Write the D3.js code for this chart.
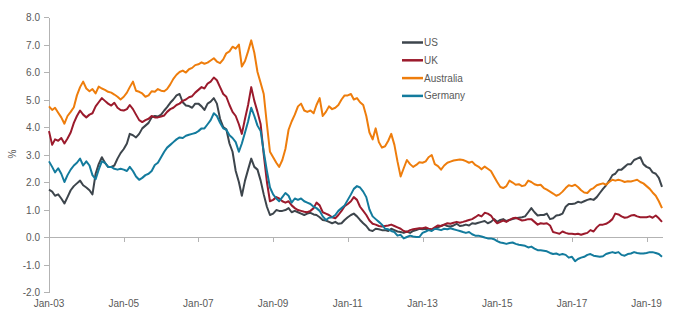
<!DOCTYPE html>
<html lang="en">
<head>
<meta charset="utf-8"/>
<title>Two-year government bond yields</title>
<script src="https://d3js.org/d3.v7.min.js"></script>
<style>
body { margin: 0; background: #fff; }
text { font-family: "Liberation Sans", Arial, sans-serif; font-size: 10px; fill: #595959; }
.axis path, .axis line { stroke: #b3b3b3; stroke-width: 1; shape-rendering: crispEdges; }
.series { fill: none; stroke-width: 2; stroke-linejoin: round; }
</style>
</head>
<body>
<div id="chart"></div>
<script>
// monthly yields (%), Jan 2003 .. Jun 2019
var seriesNames = ["US", "UK", "Australia", "Germany"];
var seriesColours = ["#3d454c", "#9b1a2c", "#ee7d0c", "#137b9d"];
var yTicks = [-2, -1, 0, 1, 2, 3, 4, 5, 6, 7, 8];
var xTickYears = [2003, 2005, 2007, 2009, 2011, 2013, 2015, 2017, 2019];

var us = [
  1.72, 1.65, 1.50, 1.55, 1.40, 1.22, 1.45, 1.70, 1.85, 1.95, 2.05, 1.88,
  1.80, 1.70, 1.55, 2.30, 2.65, 2.90, 2.70, 2.55, 2.55, 2.60, 2.85, 3.05,
  3.20, 3.40, 3.75, 3.70, 3.62, 3.75, 3.95, 4.05, 4.15, 4.35, 4.40, 4.38,
  4.45, 4.60, 4.72, 4.88, 5.00, 5.15, 5.20, 4.90, 4.78, 4.76, 4.70, 4.85,
  4.85, 4.75, 4.62, 4.85, 4.92, 5.05, 4.85, 4.30, 4.00, 3.92, 3.40, 3.10,
  2.40, 2.00, 1.50, 2.05, 2.45, 2.85, 2.55, 2.45, 2.05, 1.55, 1.10, 0.80,
  0.85, 0.98, 0.95, 0.95, 0.98, 1.05, 0.90, 0.95, 0.90, 0.85, 0.80, 0.85,
  0.88, 0.82, 0.80, 0.72, 0.62, 0.60, 0.55, 0.50, 0.55, 0.48, 0.50, 0.62,
  0.72, 0.80, 0.85, 0.75, 0.62, 0.50, 0.40, 0.25, 0.22, 0.30, 0.28, 0.25,
  0.25, 0.22, 0.30, 0.25, 0.20, 0.18, 0.15, 0.20, 0.15, 0.22, 0.25, 0.30,
  0.28, 0.30, 0.28, 0.25, 0.30, 0.35, 0.40, 0.45, 0.40, 0.38, 0.42, 0.48,
  0.40, 0.42, 0.45, 0.42, 0.50, 0.48, 0.52, 0.55, 0.58, 0.50, 0.55, 0.65,
  0.55, 0.62, 0.65, 0.58, 0.62, 0.65, 0.68, 0.70, 0.72, 0.75, 0.90, 1.05,
  0.90, 0.78, 0.80, 0.80, 0.85, 0.65, 0.68, 0.78, 0.80, 0.85, 1.10, 1.20,
  1.20, 1.22, 1.28, 1.25, 1.30, 1.35, 1.38, 1.35, 1.45, 1.60, 1.75, 1.88,
  2.05, 2.25, 2.30, 2.45, 2.45, 2.55, 2.65, 2.65, 2.80, 2.85, 2.90, 2.65,
  2.55, 2.50, 2.35, 2.30, 2.15, 1.82
];

var uk = [
  3.85, 3.35, 3.55, 3.50, 3.60, 3.40, 3.58, 3.80, 4.15, 4.40, 4.60, 4.45,
  4.35, 4.45, 4.50, 4.75, 4.90, 5.05, 4.95, 4.85, 4.78, 4.88, 4.70, 4.62,
  4.60, 4.65, 4.80, 4.65, 4.45, 4.25, 4.18, 4.25, 4.30, 4.40, 4.35, 4.35,
  4.38, 4.42, 4.55, 4.65, 4.70, 4.80, 4.85, 4.95, 5.00, 5.08, 5.12, 5.25,
  5.35, 5.45, 5.40, 5.58, 5.65, 5.80, 5.70, 5.45, 5.20, 5.10, 4.80, 4.55,
  4.40, 4.10, 3.75, 4.30, 4.80, 5.45, 4.95, 4.55, 4.10, 3.00, 2.00, 1.30,
  1.35, 1.45, 1.40, 1.30, 1.25, 1.30, 1.15, 1.05, 0.98, 0.95, 0.92, 0.90,
  0.95, 1.05, 1.25, 1.15, 0.90, 0.85, 0.80, 0.72, 0.68, 0.80, 0.95, 1.12,
  1.20, 1.30, 1.45, 1.35, 1.10, 0.95, 0.80, 0.60, 0.48, 0.45, 0.40, 0.38,
  0.40, 0.42, 0.45, 0.40, 0.35, 0.30, 0.22, 0.18, 0.25, 0.28, 0.30, 0.32,
  0.32, 0.35, 0.30, 0.28, 0.35, 0.42, 0.40, 0.45, 0.50, 0.48, 0.52, 0.55,
  0.52, 0.55, 0.58, 0.62, 0.65, 0.72, 0.80, 0.75, 0.88, 0.85, 0.78, 0.62,
  0.50, 0.55, 0.60, 0.55, 0.62, 0.68, 0.70, 0.65, 0.60, 0.62, 0.65, 0.65,
  0.55, 0.45, 0.50, 0.48, 0.50, 0.42, 0.18, 0.15, 0.12, 0.20, 0.15, 0.12,
  0.12, 0.10, 0.12, 0.08, 0.12, 0.15, 0.25, 0.20, 0.35, 0.45, 0.45, 0.48,
  0.55, 0.65, 0.85, 0.82, 0.75, 0.70, 0.72, 0.78, 0.80, 0.75, 0.72, 0.72,
  0.72, 0.75, 0.70, 0.78, 0.68, 0.55
];

var australia = [
  4.75, 4.62, 4.70, 4.52, 4.35, 4.12, 4.40, 4.55, 4.72, 5.15, 5.45, 5.65,
  5.40, 5.30, 5.38, 5.22, 5.47, 5.40, 5.35, 5.28, 5.25, 5.18, 5.10, 5.00,
  5.10, 5.25, 5.45, 5.65, 5.32, 5.28, 5.22, 5.10, 5.15, 5.30, 5.28, 5.38,
  5.32, 5.30, 5.38, 5.55, 5.75, 5.90, 6.00, 6.05, 5.98, 6.10, 6.15, 6.25,
  6.28, 6.35, 6.30, 6.34, 6.42, 6.50, 6.38, 6.32, 6.46, 6.68, 6.75, 6.92,
  6.85, 7.00, 6.20, 6.40, 6.75, 7.15, 6.70, 6.00, 5.60, 5.20, 4.10, 3.10,
  2.90, 2.70, 2.55, 2.80, 3.20, 3.90, 4.20, 4.45, 4.75, 4.85, 4.60, 4.55,
  4.60, 4.50, 4.80, 5.05, 4.40, 4.55, 4.75, 4.65, 4.70, 4.80, 5.00, 5.15,
  5.15, 5.20, 5.00, 5.05, 4.90, 4.80, 4.40, 3.80, 3.55, 3.95, 3.45, 3.25,
  3.30, 3.50, 3.75, 3.35, 2.75, 2.20, 2.50, 2.80, 2.65, 2.55, 2.62, 2.72,
  2.70, 2.75, 2.90, 2.98, 2.65, 2.58, 2.45, 2.60, 2.70, 2.74, 2.78, 2.80,
  2.82, 2.80, 2.76, 2.70, 2.74, 2.62, 2.56, 2.46, 2.56, 2.48, 2.40, 2.20,
  2.00, 1.82, 1.78, 1.85, 2.05, 1.98, 1.90, 1.92, 1.85, 1.88, 2.05, 2.00,
  1.92, 1.88, 1.90, 1.78, 1.72, 1.65, 1.58, 1.50, 1.55, 1.65, 1.78, 1.88,
  1.85, 1.90, 1.82, 1.70, 1.62, 1.60, 1.72, 1.78, 1.88, 1.92, 1.95, 1.90,
  2.00, 2.08, 2.05, 2.08, 2.05, 2.00, 2.03, 2.02, 2.05, 2.08, 2.00, 1.95,
  1.85, 1.75, 1.62, 1.50, 1.30, 1.05
];

var germany = [
  2.75, 2.55, 2.35, 2.50, 2.30, 2.00, 2.25, 2.45, 2.60, 2.70, 2.85, 2.60,
  2.75, 2.60, 2.25, 2.10, 2.45, 2.75, 2.70, 2.55, 2.55, 2.48, 2.45, 2.48,
  2.45, 2.40, 2.55, 2.40, 2.20, 2.08, 2.15, 2.25, 2.30, 2.40, 2.62, 2.70,
  2.90, 3.10, 3.25, 3.35, 3.45, 3.55, 3.62, 3.60, 3.68, 3.72, 3.75, 3.78,
  3.85, 3.95, 3.95, 4.10, 4.25, 4.50, 4.40, 4.15, 3.95, 3.90, 3.70, 3.60,
  3.45, 3.10, 3.40, 3.80, 4.20, 4.70, 4.40, 4.05, 3.85, 3.10, 2.40, 1.80,
  1.55, 1.40, 1.30, 1.45, 1.60, 1.50, 1.25, 1.40, 1.35, 1.40, 1.30, 1.25,
  1.20, 1.10, 1.05, 0.95, 0.75, 0.62, 0.70, 0.72, 0.80, 0.95, 1.05, 1.15,
  1.35, 1.55, 1.75, 1.85, 1.80, 1.65, 1.45, 1.00, 0.75, 0.65, 0.55, 0.45,
  0.30, 0.28, 0.22, 0.18, 0.05, 0.08, -0.05, 0.00, 0.05, 0.02, 0.00, 0.00,
  0.15, 0.20, 0.25, 0.22, 0.30, 0.28, 0.25, 0.30, 0.28, 0.32, 0.28, 0.25,
  0.22, 0.18, 0.15, 0.18, 0.10, 0.05, 0.05, 0.02, -0.02, -0.05, -0.05, -0.08,
  -0.15, -0.20, -0.22, -0.25, -0.22, -0.20, -0.25, -0.28, -0.30, -0.32, -0.38, -0.35,
  -0.42, -0.48, -0.48, -0.50, -0.52, -0.58, -0.62, -0.60, -0.65, -0.62, -0.65, -0.75,
  -0.72, -0.88, -0.80, -0.75, -0.72, -0.65, -0.62, -0.68, -0.70, -0.72, -0.70, -0.62,
  -0.58, -0.55, -0.58, -0.55, -0.65, -0.68, -0.62, -0.60, -0.55, -0.58, -0.60, -0.60,
  -0.58, -0.55, -0.55, -0.58, -0.62, -0.72
];

var w = 680;
var h = 322;

var months = d3.timeMonth.range(new Date(2003, 0, 1), new Date(2019, 6, 1));
var allSeries = [us, uk, australia, germany];

var svg = d3.select("#chart")
            .append("svg")
            .attr("width", w)
            .attr("height", h);

var xScale = d3.scaleTime()
               .domain([months[0], months[months.length - 1]])
               .range([49, 662]);

var yScale = d3.scaleLinear()
               .domain([-2, 8])
               .range([292, 17]);

// vertical axis
var yAxis = d3.axisLeft(yScale)
              .tickValues(yTicks)
              .tickSize(5)
              .tickSizeOuter(0)
              .tickPadding(4)
              .tickFormat(function(d){ return d.toFixed(1); });

svg.append("g")
   .attr("class", "axis")
   .attr("transform", "translate(49,0)")
   .call(yAxis)
   .call(function(g){ g.selectAll("text").attr("dy", "0.35em"); });

// horizontal axis sits on the zero line, labels along the bottom
var tickDates = xTickYears.map(function(y){ return new Date(y, 0, 1); });

var xAxis = d3.axisBottom(xScale)
              .tickValues(tickDates)
              .tickSize(5)
              .tickSizeOuter(0)
              .tickFormat("");

svg.append("g")
   .attr("class", "axis")
   .attr("transform", "translate(0," + yScale(0) + ")")
   .call(xAxis);

var fmt = d3.timeFormat("%b-%y");
svg.append("g")
   .selectAll("text")
   .data(tickDates)
   .join("text")
   .attr("x", function(d){ return xScale(d); })
   .attr("y", 307)
   .attr("text-anchor", "middle")
   .text(function(d){ return fmt(d); });

svg.append("text")
   .attr("transform", "translate(16,154) rotate(-90)")
   .attr("text-anchor", "middle")
   .text("%");

// one line per country
var line = d3.line()
             .x(function(d, i){ return xScale(months[i]); })
             .y(function(d){ return yScale(d); });

svg.selectAll(".series")
   .data(allSeries)
   .join("path")
   .attr("class", "series")
   .attr("stroke", function(d, i){ return seriesColours[i]; })
   .attr("d", line);

// legend
var legend = svg.append("g")
                .selectAll("g")
                .data(seriesNames)
                .join("g")
                .attr("transform", function(d, i){ return "translate(402," + (42.5 + i * 17.8) + ")"; });

legend.append("line")
      .attr("x1", 0)
      .attr("x2", 21)
      .attr("stroke", function(d, i){ return seriesColours[i]; })
      .attr("stroke-width", 2.5);

legend.append("text")
      .attr("x", 22)
      .attr("dy", "0.35em")
      .text(function(d){ return d; });
</script>
</body>
</html>
